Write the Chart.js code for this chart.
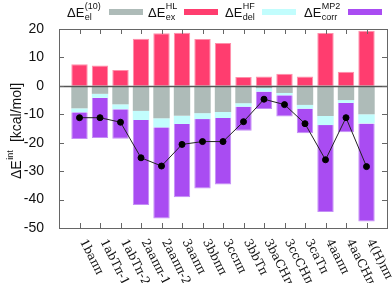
<!DOCTYPE html>
<html><head><meta charset="utf-8">
<script src="https://cdn.jsdelivr.net/npm/chart.js@4"></script>
<style>html,body{margin:0;padding:0;background:#fff}#wrap{width:392px;height:283px}</style>
</head><body><div id="wrap"><canvas id="c" width="392" height="283"></canvas></div>
<script>
const categories = ['1baππ','1abTπ-1','1abTπ-2','2aaππ-1','2aaππ-2','3aaππ','3bbππ','3ccππ','3bbTπ','3baCHπ','3ccCHπ','3caTπ','4aaππ','4aaCHπ','4(H)ππ'];
const elValues   = [-7.9,-2.8,-6.5,-8.8,-11.4,-10.5,-9.6,-9.2,-6.1,-0.8,-2.5,-6.7,-10.6,-5.0,-10.0];
const exValues   = [7.6,7.2,5.6,16.6,18.5,18.7,16.5,15.1,3.1,3.3,4.3,3.3,18.6,5.0,19.4];
const delValues  = [-1.4,-1.4,-1.7,-3.2,-3.2,-2.9,-2.1,-2.1,-1.2,-1.2,-0.8,-1.3,-3.2,-1.0,-3.2];
const corrValues = [-9.4,-14.1,-10.4,-29.9,-32.1,-25.8,-24.4,-23.4,-8.5,-6.1,-7.5,-8.7,-30.6,-10.3,-34.5];
const totalValues= [-11.2,-11.2,-12.8,-25.3,-28.2,-20.6,-19.6,-19.6,-12.6,-4.7,-6.6,-13.3,-26.0,-11.2,-28.4];
const yTicks = [20,10,0,-10,-20,-30,-40,-50];

const pad = a => [null, ...a, null];
const axisLabels = ['', ...categories, ''];

const legendItems = [
  {sup:'(10)', sub:'el', color:'#aebbb8'},
  {sup:'HL', sub:'ex', color:'#ff3d6f'},
  {sup:'HF', sub:'del', color:'#c2fdfd'},
  {sup:'MP2', sub:'corr', color:'#a94cf2'}
];
const legendX = [67,148,225,304];
const swatchX = [109,184,262,348];

const deco = {
  id:'deco',
  afterDraw(chart){
    const ctx = chart.ctx, a = chart.chartArea, x = chart.scales.x, y = chart.scales.y;
    ctx.save();
    ctx.strokeStyle = '#555'; ctx.lineWidth = 1.5;
    const y0 = Math.round(y.getPixelForValue(0))+0.5;
    ctx.beginPath(); ctx.moveTo(a.left,y0); ctx.lineTo(a.right,y0); ctx.stroke();
    ctx.strokeStyle = '#666'; ctx.lineWidth = 1;
    ctx.strokeRect(Math.round(a.left)+0.5, Math.round(a.top)+0.5, Math.round(a.right-a.left), Math.round(a.bottom-a.top));
    ctx.beginPath();
    yTicks.forEach(v=>{ const p = Math.round(y.getPixelForValue(v))+0.5;
      ctx.moveTo(a.left,p); ctx.lineTo(a.left+5,p); ctx.moveTo(a.right,p); ctx.lineTo(a.right-5,p); });
    categories.forEach((c,i)=>{ const p = Math.round(x.getPixelForValue(i+1))+0.5;
      ctx.moveTo(p,a.bottom); ctx.lineTo(p,a.bottom-5); ctx.moveTo(p,a.top); ctx.lineTo(p,a.top+5); });
    ctx.stroke();
    ctx.fillStyle = '#111'; ctx.font = '12px "DejaVu Serif"';
    ctx.textAlign = 'left'; ctx.textBaseline = 'middle';
    categories.forEach((c,i)=>{ const p = x.getPixelForValue(i+1);
      ctx.save(); ctx.translate(p+3, a.bottom+12); ctx.rotate(63*Math.PI/180); ctx.fillText(c,0,0); ctx.restore(); });
    ctx.textBaseline = 'alphabetic';
    legendItems.forEach((it,i)=>{
      ctx.font = '13px "Liberation Sans", Arial, sans-serif'; ctx.fillStyle = '#111';
      ctx.fillText('ΔE', legendX[i], 17);
      const w = ctx.measureText('ΔE').width;
      ctx.font = '9px "Liberation Sans", Arial, sans-serif';
      ctx.fillText(it.sup, legendX[i]+w+0.5, 9);
      ctx.fillText(it.sub, legendX[i]+w+0.5, 20);
      ctx.fillStyle = it.color; ctx.fillRect(swatchX[i], 9, 34, 6);
    });
    ctx.save(); ctx.translate(21, 131); ctx.rotate(-Math.PI/2);
    ctx.fillStyle = '#111';
    ctx.font = '9px "Liberation Sans", Arial, sans-serif';
    const wSup = ctx.measureText('int').width;
    ctx.font = '14px "Liberation Sans", Arial, sans-serif';
    const wMain = ctx.measureText('ΔE').width, wUnit = ctx.measureText('  [kcal/mol]').width;
    const total = wMain + wSup + 1 + wUnit;
    let sx = -total/2;
    ctx.fillText('ΔE', sx, 0); sx += wMain;
    ctx.font = '9px "Liberation Sans", Arial, sans-serif'; ctx.fillText('int', sx+0.5, -8); sx += wSup+1;
    ctx.font = '14px "Liberation Sans", Arial, sans-serif'; ctx.fillText('  [kcal/mol]', sx, 0);
    ctx.restore();
    ctx.restore();
  }
};

new Chart(document.getElementById('c'), {
  type:'bar',
  data:{
    labels: axisLabels,
    datasets:[
      {label:'el', data:pad(elValues), backgroundColor:'#aebbb8', borderWidth:0, stack:'bars', order:1},
      {label:'ex', data:pad(exValues), backgroundColor:'#ff3d6f', borderColor:'#ff8faa', borderWidth:1, stack:'bars', order:1},
      {label:'del', data:pad(delValues), backgroundColor:'#c2fdfd', borderWidth:0, stack:'bars', order:1},
      {label:'corr', data:pad(corrValues), backgroundColor:'#a94cf2', borderColor:'#c48ef5', borderWidth:1, stack:'bars', order:1},
      {type:'line', label:'total', data:pad(totalValues), borderColor:'#222', borderWidth:1, pointRadius:3, pointBackgroundColor:'#000', pointBorderColor:'#000', stack:'total', order:0, spanGaps:false}
    ]
  },
  options:{
    responsive:false, animation:false, devicePixelRatio:1,
    layout:{padding:{top:29,right:4,left:0,bottom:0}},
    plugins:{legend:{display:false}, tooltip:{enabled:false}},
    datasets:{bar:{categoryPercentage:1, barPercentage:0.8}},
    scales:{
      x:{stacked:true, offset:false, grid:{display:false}, border:{display:false}, ticks:{display:false},
         afterFit(s){ s.height = 55; }},
      y:{stacked:true, min:-50, max:20, grid:{display:false}, border:{display:false},
         ticks:{stepSize:10, padding:7, color:'#111', font:{family:'"Liberation Sans", Arial, sans-serif', size:14}},
         afterFit(s){ s.width = 59; }}
    }
  },
  plugins:[deco]
});
</script></body></html>
